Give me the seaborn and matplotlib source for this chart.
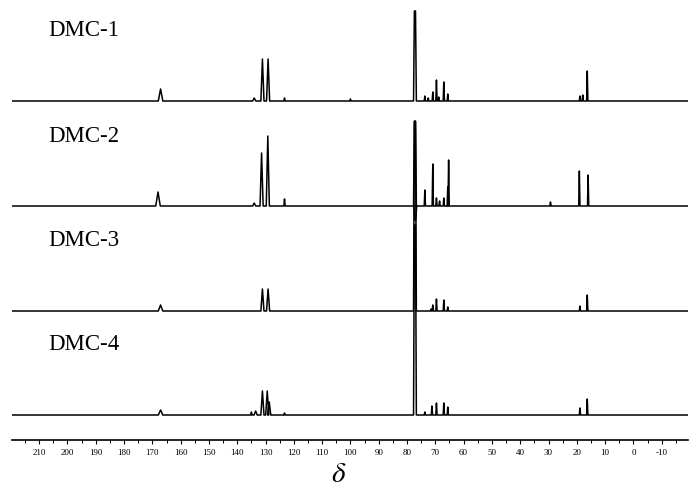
# === 0. IMPORT LIBRARIES ===
import pandas as pd
import seaborn as sns
import matplotlib.pyplot as plt
from matplotlib.ticker import MultipleLocator

# === 1. DATA (peaks, shift in ppm, height in arbitrary units) ===
samples = ["DMC-1", "DMC-2", "DMC-3", "DMC-4"]

dmc1_ppm = [167.1, 134.0, 131.1, 129.1, 123.3, 100.0, 77.2, 73.7, 72.5, 70.9, 69.6, 68.8, 67.0, 65.6, 18.9, 17.9, 16.3]
dmc1_int = [12, 3, 42, 42, 3, 2, 90, 5, 3, 9, 21, 4, 19, 7, 5, 6, 30]

dmc2_ppm = [168.0, 134.0, 131.4, 129.2, 123.3, 77.2, 77.1, 73.7, 70.9, 69.6, 68.5, 67.0, 65.6, 65.3, 29.3, 19.1, 16.0]
dmc2_int = [14, 3, 53, 70, 7, 84, -14, 16, 42, 8, 5, 8, 19, 46, 4, 35, 31]

dmc3_ppm = [167.1, 131.1, 129.1, 77.2, 71.5, 70.9, 69.6, 67.0, 65.6, 18.9, 16.3]
dmc3_int = [6, 22, 22, 190, 2, 6, 12, 11, 4, 5, 16]

dmc4_ppm = [167.1, 135.0, 133.5, 131.1, 129.4, 128.7, 123.3, 77.2, 73.7, 71.2, 69.6, 67.0, 65.6, 18.9, 16.3]
dmc4_int = [5, 3, 4, 24, 24, 13, 2, 190, 3, 9, 12, 12, 8, 7, 16]

ppm_lists = [dmc1_ppm, dmc2_ppm, dmc3_ppm, dmc4_ppm]
int_lists = [dmc1_int, dmc2_int, dmc3_int, dmc4_int]

# axis range and ticks
x_left, x_right = 219.5, -19.3
tick_values = list(range(-10, 211, 10))

# === 2. BUILD LINE TABLE ===
def peak_shape(p):
    # (half width at base, half width at top) in ppm; solvent line and carbonyl are broader
    if abs(p - 77.2) < 0.3:
        return 0.5, 0.2
    if p > 160:
        return 0.8, 0.0
    if 125 < p < 135:
        return 0.55, 0.0
    return 0.22, 0.0

rows = []
for name, ppms, ints in zip(samples, ppm_lists, int_lists):
    rows.append((name, x_left, 0))
    for p, h in sorted(zip(ppms, ints), key=lambda t: -t[0]):
        w, wt = peak_shape(p)
        rows += [(name, p + w, 0), (name, p + wt, h),
                 (name, p - wt, h), (name, p - w, 0)]
    rows.append((name, x_right, 0))
df = pd.DataFrame(rows, columns=["sample", "ppm", "intensity"])

# vertical stacking (top to bottom)
offsets = {"DMC-1": 314, "DMC-2": 209, "DMC-3": 104, "DMC-4": 0}
df["y"] = df["intensity"] + df["sample"].map(offsets)

# === 3. PLOT ===
sns.set_style("white")
plt.rcParams["font.family"] = ["Liberation Serif", "DejaVu Serif"]
plt.rcParams["text.color"] = "black"
plt.rcParams["xtick.color"] = "black"

fig = plt.figure(figsize=(7, 4.89), dpi=100)
ax = fig.add_axes([12.3 / 700, 1 - 441 / 489, (688 - 12.3) / 700, 441 / 489])

for name in samples:
    sns.lineplot(data=df[df["sample"] == name], x="ppm", y="y", sort=False,
                 estimator=None, color="black", lw=1.1, ax=ax)
    ax.text(206.8, offsets[name] + 71, name, fontsize=16.5, ha="left", va="center", color="black")

ax.set_xlim(x_left, x_right)
ax.set_ylim(-25, 416)
ax.xaxis.set_minor_locator(MultipleLocator(5))
ax.set_xticks(tick_values)
ax.set_xticklabels([str(v) for v in tick_values], fontsize=6.5)
ax.tick_params(axis="x", which="major", direction="out", length=3, width=0.8, pad=2.5, bottom=True)
ax.tick_params(axis="x", which="minor", direction="out", length=2, width=0.7, bottom=True)
ax.set_yticks([])
ax.set_xlabel("")
ax.set_ylabel("")
for side in ["left", "right", "top"]:
    ax.spines[side].set_visible(False)
ax.spines["bottom"].set_linewidth(1.2)
ax.spines["bottom"].set_color("black")

fig.text(339 / 700, 1 - 475 / 489, r"$\delta$", fontsize=21, ha="center", va="center",
         math_fontfamily="stix", color="black")

plt.savefig("out.png", dpi=100)
